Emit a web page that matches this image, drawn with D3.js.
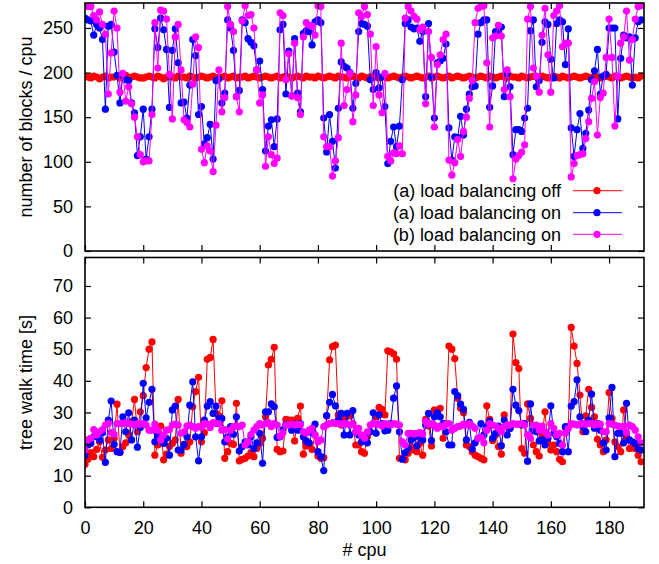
<!DOCTYPE html>
<html>
<head>
<meta charset="utf-8">
<script src="https://cdn.jsdelivr.net/npm/d3@7"></script>
<style>
  html, body { margin: 0; padding: 0; background: #fff; }
  svg text { font-family: "Liberation Sans", Arial, Helvetica, sans-serif; fill: #000; }
</style>
</head>
<body>
<svg id="chart" width="659" height="564"></svg>
<script>
// ---- data ----
const cpus = d3.range(0, 192);
const xTicks = [0, 20, 40, 60, 80, 100, 120, 140, 160, 180];
const yTicksTop = [0, 50, 100, 150, 200, 250];
const yTicksBottom = [0, 10, 20, 30, 40, 50, 60, 70];
const seriesNames = ["(a) load balancing off", "(a) load balancing on", "(b) load balancing on"];
const seriesColors = ["#ff0000", "#0000ff", "#ff00ff"];

// number of blocks / cpu
const blocksOffA = [
196,195,194,196,195,193,195,196,194,195,
195,196,194,195,197,194,195,196,195,194,
194,195,196,195,194,196,195,193,195,196,
195,194,196,195,195,194,196,195,194,195,
196,195,194,195,196,194,195,195,196,194,
195,196,194,195,195,196,194,195,196,195,
194,195,196,195,194,195,196,194,195,196,
195,194,195,196,195,194,196,195,195,194,
196,195,194,195,196,195,194,196,195,195,
194,195,196,195,194,196,195,194,195,196,
195,194,195,196,194,195,196,195,194,195,
196,195,194,195,196,195,194,195,196,194,
195,196,195,194,195,196,194,195,196,195,
194,195,196,195,194,195,196,195,194,196,
195,194,195,196,195,194,196,195,195,194,
196,195,194,195,196,195,194,196,195,194,
195,196,195,194,196,195,194,195,196,195,
194,195,196,195,194,196,195,194,195,196,
195,194,196,195,194,195,196,195,194,195,
194,196];
const blocksOnA = [
261,259,258,242,254,250,237,159,252,254,
223,197,166,197,192,191,166,155,107,128,
159,103,128,159,249,228,261,248,226,161,
225,249,211,166,167,149,186,237,219,153,
162,120,127,142,103,191,193,166,177,259,
250,225,173,180,259,256,238,234,230,203,
213,181,112,140,147,117,148,248,254,176,
224,174,238,177,156,244,247,246,231,257,
259,256,149,111,153,123,93,160,212,207,
205,200,160,188,246,255,254,252,192,181,
200,183,195,162,98,123,139,117,140,192,
255,259,251,249,250,235,246,173,255,195,
149,211,213,216,232,138,102,128,127,151,
130,159,176,184,185,243,256,259,259,161,
185,246,247,251,173,199,184,108,136,136,
134,149,160,247,259,184,191,234,257,254,
215,194,255,259,257,209,249,138,106,136,
154,115,132,158,192,202,226,176,196,198,
250,250,250,148,216,242,239,240,186,239,
257,259];
const blocksOnB = [
277,274,274,264,259,268,254,243,176,222,
269,250,178,199,168,184,165,150,128,108,
100,101,101,153,256,205,270,269,260,198,
148,240,254,203,147,144,139,187,240,228,
114,99,118,112,89,141,203,156,172,274,
254,246,173,156,258,275,264,265,250,203,
166,175,95,128,108,98,104,267,264,192,
221,174,233,172,153,240,256,253,252,242,
275,274,128,117,117,84,101,127,233,163,
181,199,145,175,267,263,274,265,243,163,
229,175,155,199,106,101,110,109,118,109,
261,274,269,263,260,248,251,165,246,217,
139,209,220,237,243,102,85,99,125,106,
134,150,171,191,256,272,274,275,211,139,
239,241,253,241,181,203,173,81,103,107,
111,119,260,274,205,196,178,242,272,220,
178,264,269,275,229,233,233,83,98,107,
108,109,126,145,171,190,130,172,177,217,
260,217,140,196,233,240,269,214,237,260,
274,275];

// tree walk time [s]
const timeOffA = [
13.6,15.2,17.3,16,18.3,20.7,15.8,18.1,21.3,18.6,
21.8,32.6,17.3,19.2,20.4,22.9,27.1,34.1,23.9,30.2,
35.3,44.2,50,52.3,16.5,19.7,25.7,15,16.8,19.2,
20.2,21.3,34.1,17.1,19.4,19.2,20.7,31.8,36.6,41.1,
20.7,23.6,46.8,47.4,53.1,29.7,28.9,33.7,15.5,17.6,
20.2,19.9,32.9,14.7,15.2,15.5,16.2,17.3,16,18.6,
20.2,21.8,28.6,45,46.8,50.6,18.3,17.6,17.8,27.8,
27.6,27.6,21,28.1,32,16.8,19.4,19.9,18.3,22.9,
16.2,15.5,15.7,28.9,46.6,50.8,51.3,29.2,26,28.1,
29.2,28.9,26.5,19.7,19.7,17.6,17.1,22.3,23.9,26.5,
28.6,31.6,31,29.2,49.5,49.2,48.5,46.8,15.5,15.5,
15,17.1,19.2,18.1,17.6,20.2,16.5,27.8,25.7,19.4,
30.8,30.5,31.3,21.8,26.5,51,50,47,34.5,31.3,
29.9,19.7,19.2,17.6,16.5,16,15.5,15,32.1,27.8,
21.1,22.9,19.2,16.8,29.2,26,25,54.8,45.8,43.9,
18.6,17.1,32.7,28.1,19.7,17.6,16.2,22.9,30.2,20.4,
18.1,19.7,17.6,15.2,14.4,25.2,25.5,56.9,51,45.5,
35.5,23.9,28.9,37.3,31.6,28.6,21.5,19.7,17.6,21.3,
36.3,28.1,20.7,19.2,17.6,30.8,22.3,18.6,18.9,18.6,
16.5,14.4];
const timeOnA = [
16.5,19.7,20.2,22.3,23.4,21.3,23.6,14.2,27.6,33.6,
19.9,17.6,17.4,28.6,23.9,29.9,21.3,27.6,19,25.2,
39.2,28.3,33.2,37.3,20.7,22.9,21.5,20.2,21.8,16.5,
30.8,32,18.1,18.1,19.9,22.3,32.3,39.7,22.3,14.7,
22.3,27.6,32,33.4,29.7,32,28.1,28.1,20.7,22.3,
25.5,23.1,28.6,17.8,19.2,20.7,19.7,22.3,18.6,20.4,
23.4,13.9,30.2,30.2,32.7,31.8,22.1,22.3,24.6,26.2,
26,24.4,26.3,24.4,26.5,22.3,21,20.4,23.6,26.3,
17.6,16,11.6,29,33.2,35.7,32.1,27.6,29.7,22.9,
29.7,22.9,30.6,23.9,22.9,20.7,22.3,20.4,23.9,29.9,
23.4,29.2,26.5,24.2,24.4,26.5,34.5,38.4,23.9,15.2,
17.3,18.8,21.3,22,19.4,22.3,21.3,26,29.7,21.1,
28.6,29.9,28.6,26.5,23.9,19.7,19.7,36.6,35.3,32.6,
31,21.3,26.9,18.4,20.4,21.8,26.5,22.9,25.5,27.3,
21.8,23.4,25.7,19.5,27.6,22.9,25,37.3,32.3,30.6,
26,26.5,14.6,32.7,24.4,23.9,21,21.3,19.7,21.8,
32.1,23.4,22.3,20.2,17.6,25.5,17.6,32,33.4,40.3,
28.6,25.5,23.9,27.6,35.8,25,26.5,24.4,20.4,18.1,
28.3,37.9,16,23.4,23.4,20.4,32.9,21.3,20.7,20.2,
18.6,18.1];
const timeOnB = [
18.1,21.3,21.8,24.6,22.9,23.9,24.6,26,26.5,23.6,
23.1,26.5,26.5,26.5,26.8,26.5,26.3,26,26.5,26.3,
26.5,26,24.4,24.4,26.3,24.4,21.3,22.9,24.4,24.6,
26,26.3,26,23.4,23.9,25.7,26,25.5,25,25.5,
25.3,26.5,26.3,25.2,26.8,26.5,26.5,24.4,24.6,21.6,
24.4,25.5,25.7,25.5,26,19.7,20.7,23,24.4,25.5,
26.5,26,26.5,26.8,25.5,26.5,26,22.5,23.6,26,
26,26.2,26,26.2,26.2,23.9,23.4,24.4,25,22.9,
20.7,21.3,25.5,26,26.5,26.8,26.5,26.5,26.3,26.5,
26.3,26,26.3,23.9,25,22.9,21.8,23.9,26,26.5,
26.3,26.3,25.7,26.5,26.3,26,26.5,26.3,26,20.7,
19.7,23.4,23.4,23.2,23.4,23.6,23.2,27.1,26.3,26.5,
26,25,25.7,25.5,26.3,26.5,24.4,25,25.5,25.7,
26.3,26,26.5,25.7,25,21.8,22.1,20.4,24.4,26.5,
26,25.7,25,23.9,25.5,26,26,26.5,26.3,26.3,
26.5,26,22.9,21.8,26,26,24.4,25.7,23.9,22.9,
26.5,25,22.9,23.4,19.7,23.4,25,26.5,26.3,26,
26.3,26.5,26.3,26.5,26.5,26,26.3,26.3,23.9,23.9,
26.5,26.3,26,25.7,25.5,25.5,23.6,26,25.5,24.4,
22.3,20.4];

// ---- layout ----
const svg = d3.select("#chart");
const left = 85, right = 644;
const topPanel = { y0: 3, y1: 251, domain: [0, 278], ticks: yTicksTop,
  series: [blocksOffA, blocksOnA, blocksOnB], title: "number of blocks / cpu" };
const botPanel = { y0: 257.5, y1: 507.3, domain: [0, 79], ticks: yTicksBottom,
  series: [timeOffA, timeOnA, timeOnB], title: "tree walk time [s]" };

const x = d3.scaleLinear().domain([0, 192]).range([left, right]);
const FONT = 18;
const R = 3.6;

function drawPanel(p, showXLabels) {
  const y = d3.scaleLinear().domain(p.domain).range([p.y1, p.y0]);
  const g = svg.append("g");

  const clipId = "clip" + Math.round(p.y0);
  svg.append("clipPath").attr("id", clipId)
    .append("rect").attr("x", left).attr("y", p.y0).attr("width", right - left).attr("height", p.y1 - p.y0);

  const plot = g.append("g").attr("clip-path", `url(#${clipId})`);
  const line = d3.line().x((d, i) => x(cpus[i])).y(d => y(d));
  p.series.forEach((s, k) => {
    const sg = plot.append("g");
    sg.append("path").datum(s).attr("d", line)
      .attr("fill", "none").attr("stroke", seriesColors[k]).attr("stroke-width", 1);
    sg.selectAll("circle").data(s).join("circle")
      .attr("cx", (d, i) => x(cpus[i])).attr("cy", d => y(d)).attr("r", R)
      .attr("fill", seriesColors[k]);
  });

  const tl = 6;
  const axL = d3.axisLeft(y).tickValues(p.ticks).tickSize(-tl).tickPadding(12);
  g.append("g").attr("transform", `translate(${left},0)`).call(axL);
  const axR = d3.axisRight(y).tickValues(p.ticks).tickSize(-tl).tickFormat("");
  g.append("g").attr("transform", `translate(${right},0)`).call(axR);
  const axB = d3.axisBottom(x).tickValues(xTicks).tickSize(-tl).tickPadding(14);
  if (!showXLabels) axB.tickFormat("");
  g.append("g").attr("transform", `translate(0,${p.y1})`).call(axB);
  const axT = d3.axisTop(x).tickValues(xTicks).tickSize(-tl).tickFormat("");
  g.append("g").attr("transform", `translate(0,${p.y0})`).call(axT);
  g.selectAll(".domain").remove();
  g.selectAll(".tick line").attr("stroke", "#000").attr("stroke-width", 1.2);
  g.selectAll(".tick text").attr("font-size", FONT).attr("font-family", "Liberation Sans, Arial, sans-serif").attr("fill", "#000");

  g.append("rect").attr("x", left).attr("y", p.y0).attr("width", right - left).attr("height", p.y1 - p.y0)
    .attr("fill", "none").attr("stroke", "#000").attr("stroke-width", 1.6);

  svg.append("text")
    .attr("transform", `translate(32,${(p.y0 + p.y1) / 2}) rotate(-90)`)
    .attr("text-anchor", "middle").attr("font-size", FONT).text(p.title);
  return y;
}

drawPanel(topPanel, false);
drawPanel(botPanel, true);

svg.append("text").attr("x", (left + right) / 2).attr("y", 556)
  .attr("text-anchor", "middle").attr("font-size", FONT).text("# cpu");

const legY = [190.7, 212.7, 234.3];
const leg = svg.append("g");
seriesNames.forEach((name, k) => {
  leg.append("text").attr("x", 561).attr("y", legY[k]).attr("dy", "0.35em")
    .attr("text-anchor", "end").attr("font-size", FONT).text(name);
  leg.append("line").attr("x1", 573).attr("x2", 622).attr("y1", legY[k]).attr("y2", legY[k])
    .attr("stroke", seriesColors[k]).attr("stroke-width", 1);
  leg.append("circle").attr("cx", 597).attr("cy", legY[k]).attr("r", R).attr("fill", seriesColors[k]);
});
</script>
</body>
</html>
